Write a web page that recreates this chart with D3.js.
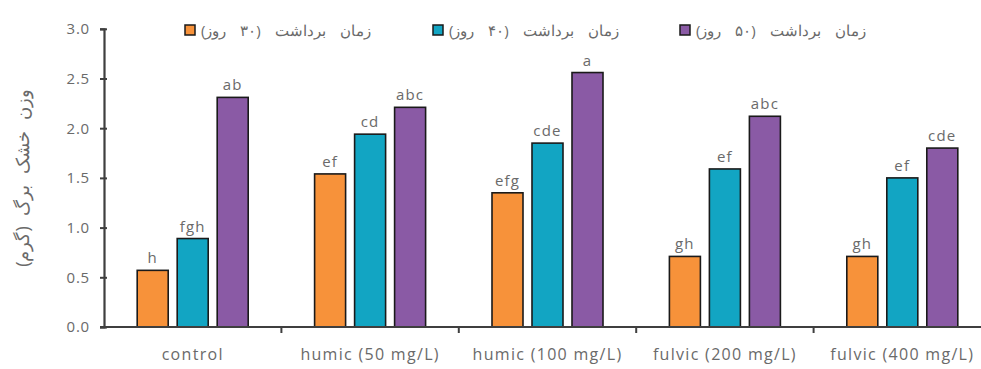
<!DOCTYPE html>
<html>
<head>
<meta charset="utf-8">
<script src="https://cdn.jsdelivr.net/npm/d3@7/dist/d3.min.js"></script>
<style>
  html, body { margin: 0; padding: 0; background: #fff; }
  svg { display: block; font-family: "Open Sans", "Noto Sans", sans-serif; }
</style>
</head>
<body>
<svg id="chart" width="981" height="369"></svg>
<script>
// Treatments on the x axis
const categories = ["control", "humic (50 mg/L)", "humic (100 mg/L)", "fulvic (200 mg/L)", "fulvic (400 mg/L)"];
// Harvest times (legend entries)
const seriesNames = ["زمان برداشت (۳۰ روز)", "زمان برداشت (۴۰ روز)", "زمان برداشت (۵۰ روز)"];
// Leaf dry weight (g) per harvest time
const day30 = [0.57, 1.54, 1.35, 0.71, 0.71];
const day40 = [0.89, 1.94, 1.85, 1.59, 1.50];
const day50 = [2.31, 2.21, 2.56, 2.12, 1.80];
// Mean-comparison letters
const letters30 = ["h", "ef", "efg", "gh", "gh"];
const letters40 = ["fgh", "cd", "cde", "ef", "ef"];
const letters50 = ["ab", "abc", "a", "abc", "cde"];
const yTicks = [0, 0.5, 1.0, 1.5, 2.0, 2.5, 3.0];
const yTitle = "وزن خشک برگ (گرم)";

const colors = ["#F7923A", "#12A5C3", "#8A5AA5"];
const textColor = "#6a6a6a";
const axisColor = "#3f3f3f";

const series = [
  { name: seriesNames[0], values: day30, letters: letters30 },
  { name: seriesNames[1], values: day40, letters: letters40 },
  { name: seriesNames[2], values: day50, letters: letters50 }
];

const svg = d3.select("#chart");
const plotLeft = 104, plotRight = 991, plotTop = 28.8, plotBottom = 327;

const x0 = d3.scaleBand().domain(categories).range([plotLeft, plotRight]);
const x1 = d3.scaleBand().domain(d3.range(series.length)).range([-55.5, 55.5]).paddingInner(0.225);
const y = d3.scaleLinear().domain([0, 3]).range([plotBottom, plotTop]);

// Bars with their significance letters
series.forEach((s, si) => {
  const g = svg.append("g");
  g.selectAll("rect").data(s.values).join("rect")
    .attr("x", (d, i) => x0(categories[i]) + x0.bandwidth() / 2 + x1(si))
    .attr("y", d => y(d))
    .attr("width", x1.bandwidth())
    .attr("height", d => y(0) - y(d))
    .attr("fill", colors[si])
    .attr("stroke", "#1a1a1a")
    .attr("stroke-width", 1.6);
  g.selectAll("text").data(s.values).join("text")
    .attr("x", (d, i) => x0(categories[i]) + x0.bandwidth() / 2 + x1(si) + x1.bandwidth() / 2)
    .attr("y", d => y(d) - 7)
    .attr("text-anchor", "middle")
    .attr("font-size", 15)
    .attr("letter-spacing", 1.2)
    .attr("fill", textColor)
    .text((d, i) => s.letters[i]);
});

// Y axis
const yAxis = d3.axisLeft(y).tickValues(yTicks).tickFormat(d3.format(".1f")).tickSize(4).tickPadding(10);
const yg = svg.append("g").attr("transform", `translate(${plotLeft},0)`).call(yAxis);
yg.select(".domain").attr("stroke", axisColor).attr("stroke-width", 2.2);
yg.selectAll(".tick line").attr("stroke", axisColor).attr("stroke-width", 2).attr("x2", -4).attr("x1", 3);
yg.selectAll(".tick text").attr("fill", textColor).attr("font-size", 15).attr("letter-spacing", 0.8)
  .attr("font-family", "Open Sans");

// X axis with ticks on category boundaries
const xg = svg.append("g").attr("transform", `translate(0,${plotBottom})`);
xg.append("line").attr("x1", plotLeft - 4).attr("x2", plotRight).attr("stroke", axisColor).attr("stroke-width", 2);
xg.selectAll("line.tk").data(categories.slice(1)).join("line")
  .attr("class", "tk")
  .attr("x1", d => x0(d)).attr("x2", d => x0(d))
  .attr("y1", 0).attr("y2", 6)
  .attr("stroke", axisColor).attr("stroke-width", 2);
xg.selectAll("text").data(categories).join("text")
  .attr("x", d => x0(d) + x0.bandwidth() / 2)
  .attr("y", 33)
  .attr("text-anchor", "middle")
  .attr("font-size", 16)
  .attr("letter-spacing", 1.3)
  .attr("fill", textColor)
  .text(d => d);

// Y axis title
svg.append("text")
  .attr("transform", "translate(29,178) rotate(-90)")
  .attr("text-anchor", "middle")
  .attr("direction", "rtl")
  .attr("font-size", 18)
  .attr("word-spacing", 6)
  .attr("fill", textColor)
  .text(yTitle);

// Legend
const legendX = [185, 433, 680];
series.forEach((s, si) => {
  svg.append("rect")
    .attr("x", legendX[si]).attr("y", 25)
    .attr("width", 10).attr("height", 10)
    .attr("fill", colors[si]).attr("stroke", "#1a1a1a").attr("stroke-width", 1.5);
  svg.append("text")
    .attr("x", legendX[si] + 16).attr("y", 36)
    .attr("direction", "rtl")
    .attr("text-anchor", "end")
    .attr("font-size", 15)
    .attr("word-spacing", 10)
    .attr("fill", textColor)
    .text(s.name);
});
</script>
</body>
</html>
